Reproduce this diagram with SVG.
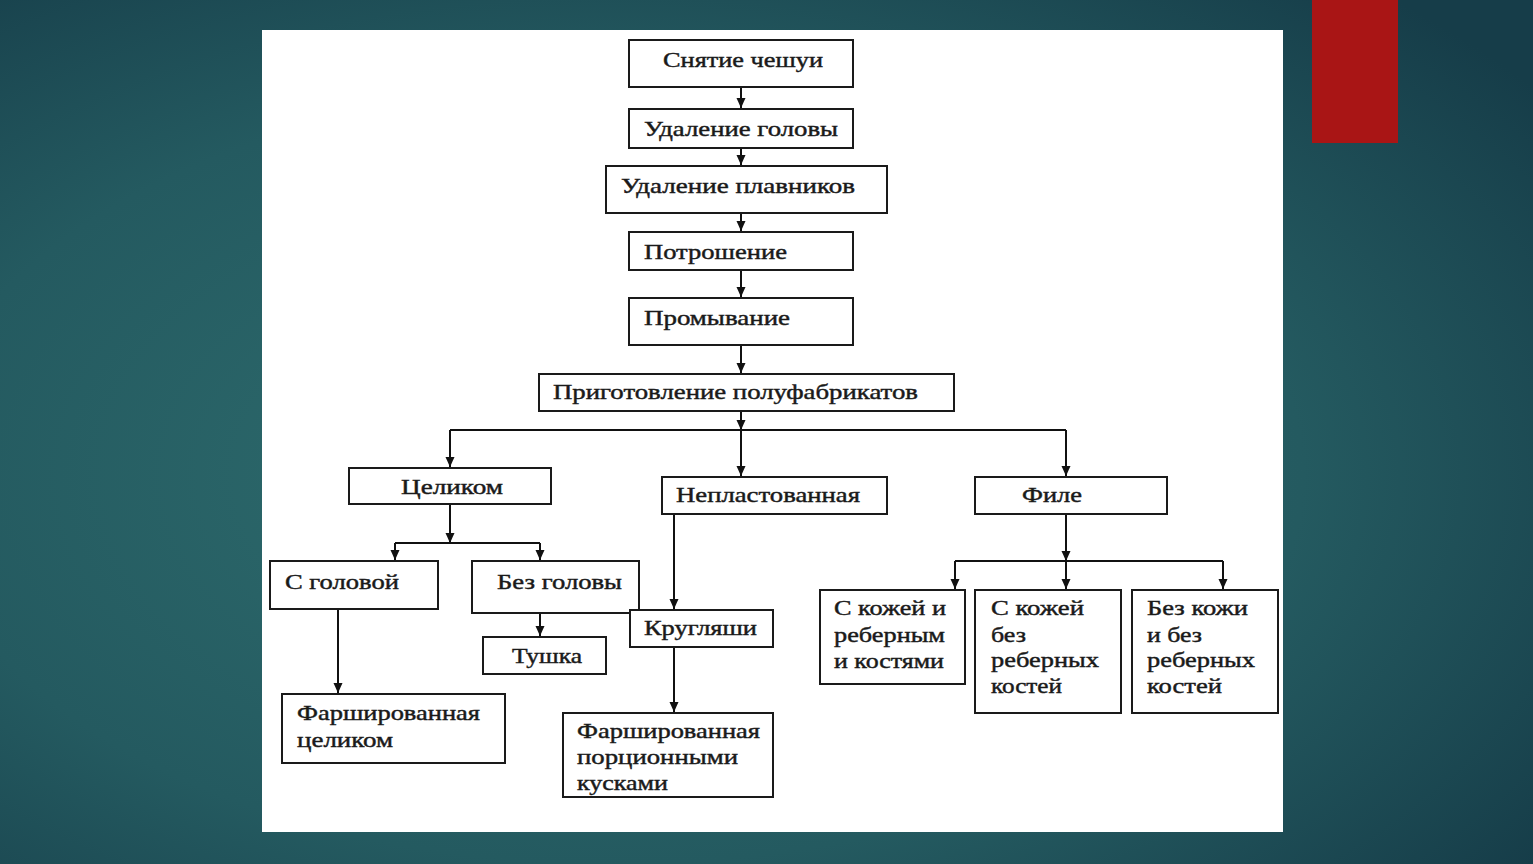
<svg xmlns="http://www.w3.org/2000/svg" width="1533" height="864" viewBox="0 0 1533 864">
<defs>
<radialGradient id="bg" cx="0.4" cy="0.55" r="0.75">
<stop offset="0" stop-color="#2f6e6f"/>
<stop offset="0.6" stop-color="#245a60"/>
<stop offset="1" stop-color="#163d49"/>
</radialGradient>
<marker id="ah" markerWidth="12" markerHeight="12" refX="10" refY="6" orient="auto" markerUnits="userSpaceOnUse">
<path d="M0,1.5 L10,6 L0,10.5 Z" fill="#111"/>
</marker>
<style>
.b{fill:#fff;stroke:#1a1a1a;stroke-width:2}
.t{font-family:"Liberation Serif","Times New Roman",serif;font-size:22px;fill:#1a1a1a;stroke:#1a1a1a;stroke-width:0.45}
.c{fill:none;stroke:#111;stroke-width:2}
.a{marker-end:url(#ah)}
</style>
</defs>
<rect width="1533" height="864" fill="url(#bg)"/>
<rect x="1312" y="0" width="86" height="143" fill="#a91515"/>
<rect x="262" y="30" width="1021" height="802" fill="#fff"/>

<g id="connectors">
<line class="c a" x1="741" y1="87" x2="741" y2="108"/>
<line class="c a" x1="741" y1="148" x2="741" y2="165"/>
<line class="c a" x1="741" y1="213" x2="741" y2="231"/>
<line class="c a" x1="741" y1="270" x2="741" y2="297"/>
<line class="c a" x1="741" y1="345" x2="741" y2="373"/>
<line class="c a" x1="741" y1="411" x2="741" y2="430"/>
<polyline class="c" points="450,430 1066,430"/>
<line class="c a" x1="450" y1="430" x2="450" y2="467"/>
<line class="c a" x1="741" y1="430" x2="741" y2="476"/>
<line class="c a" x1="1066" y1="430" x2="1066" y2="476"/>
<line class="c a" x1="450" y1="504" x2="450" y2="543"/>
<polyline class="c" points="395,543 540,543"/>
<line class="c a" x1="395" y1="543" x2="395" y2="560"/>
<line class="c a" x1="540" y1="543" x2="540" y2="560"/>
<line class="c a" x1="540" y1="613" x2="540" y2="636"/>
<line class="c a" x1="338" y1="609" x2="338" y2="693"/>
<line class="c a" x1="674" y1="514" x2="674" y2="609"/>
<line class="c a" x1="674" y1="647" x2="674" y2="712"/>
<line class="c a" x1="1066" y1="514" x2="1066" y2="561"/>
<polyline class="c" points="955,561 1223,561"/>
<line class="c a" x1="955" y1="561" x2="955" y2="589"/>
<line class="c a" x1="1066" y1="561" x2="1066" y2="589"/>
<line class="c a" x1="1223" y1="561" x2="1223" y2="589"/>
</g>

<g id="n1"><rect class="b" x="629" y="40" width="224" height="47"/><text class="t" x="663" y="67" textLength="160" lengthAdjust="spacingAndGlyphs">Снятие чешуи</text></g>
<g id="n2"><rect class="b" x="629" y="109" width="224" height="39"/><text class="t" x="644" y="136" textLength="194" lengthAdjust="spacingAndGlyphs">Удаление головы</text></g>
<g id="n3"><rect class="b" x="606" y="166" width="281" height="47"/><text class="t" x="621" y="193" textLength="234" lengthAdjust="spacingAndGlyphs">Удаление плавников</text></g>
<g id="n4"><rect class="b" x="629" y="232" width="224" height="38"/><text class="t" x="644" y="259" textLength="143" lengthAdjust="spacingAndGlyphs">Потрошение</text></g>
<g id="n5"><rect class="b" x="629" y="298" width="224" height="47"/><text class="t" x="644" y="325" textLength="146" lengthAdjust="spacingAndGlyphs">Промывание</text></g>
<g id="n6"><rect class="b" x="539" y="374" width="415" height="37"/><text class="t" x="553" y="399" textLength="365" lengthAdjust="spacingAndGlyphs">Приготовление полуфабрикатов</text></g>
<g id="n7"><rect class="b" x="349" y="468" width="202" height="36"/><text class="t" x="401" y="494" textLength="102" lengthAdjust="spacingAndGlyphs">Целиком</text></g>
<g id="n8"><rect class="b" x="662" y="477" width="225" height="37"/><text class="t" x="676" y="502" textLength="184" lengthAdjust="spacingAndGlyphs">Непластованная</text></g>
<g id="n9"><rect class="b" x="975" y="477" width="192" height="37"/><text class="t" x="1022" y="502" textLength="60" lengthAdjust="spacingAndGlyphs">Филе</text></g>
<g id="n10"><rect class="b" x="270" y="561" width="168" height="48"/><text class="t" x="285" y="589" textLength="114" lengthAdjust="spacingAndGlyphs">С головой</text></g>
<g id="n11"><rect class="b" x="472" y="561" width="167" height="52"/><text class="t" x="497" y="589" textLength="125" lengthAdjust="spacingAndGlyphs">Без головы</text></g>
<g id="n12"><rect class="b" x="483" y="637" width="123" height="37"/><text class="t" x="512" y="663" textLength="70" lengthAdjust="spacingAndGlyphs">Тушка</text></g>
<g id="n13"><rect class="b" x="630" y="610" width="143" height="37"/><text class="t" x="644" y="635" textLength="113" lengthAdjust="spacingAndGlyphs">Кругляши</text></g>
<g id="n14"><rect class="b" x="282" y="694" width="223" height="69"/><text class="t" x="297" y="720" textLength="183" lengthAdjust="spacingAndGlyphs">Фаршированная</text><text class="t" x="297" y="747" textLength="96" lengthAdjust="spacingAndGlyphs">целиком</text></g>
<g id="n15"><rect class="b" x="563" y="713" width="210" height="84"/><text class="t" x="577" y="738" textLength="183" lengthAdjust="spacingAndGlyphs">Фаршированная</text><text class="t" x="577" y="764" textLength="161" lengthAdjust="spacingAndGlyphs">порционными</text><text class="t" x="577" y="790" textLength="91" lengthAdjust="spacingAndGlyphs">кусками</text></g>
<g id="n16"><rect class="b" x="820" y="590" width="145" height="94"/><text class="t" x="834" y="615" textLength="112" lengthAdjust="spacingAndGlyphs">С кожей и</text><text class="t" x="834" y="642" textLength="111" lengthAdjust="spacingAndGlyphs">реберным</text><text class="t" x="834" y="668" textLength="110" lengthAdjust="spacingAndGlyphs">и костями</text></g>
<g id="n17"><rect class="b" x="975" y="590" width="146" height="123"/><text class="t" x="991" y="615" textLength="93" lengthAdjust="spacingAndGlyphs">С кожей</text><text class="t" x="991" y="642" textLength="35" lengthAdjust="spacingAndGlyphs">без</text><text class="t" x="991" y="667" textLength="108" lengthAdjust="spacingAndGlyphs">реберных</text><text class="t" x="991" y="693" textLength="71" lengthAdjust="spacingAndGlyphs">костей</text></g>
<g id="n18"><rect class="b" x="1132" y="590" width="146" height="123"/><text class="t" x="1147" y="615" textLength="101" lengthAdjust="spacingAndGlyphs">Без кожи</text><text class="t" x="1147" y="642" textLength="55" lengthAdjust="spacingAndGlyphs">и без</text><text class="t" x="1147" y="667" textLength="108" lengthAdjust="spacingAndGlyphs">реберных</text><text class="t" x="1147" y="693" textLength="75" lengthAdjust="spacingAndGlyphs">костей</text></g>
</svg>
